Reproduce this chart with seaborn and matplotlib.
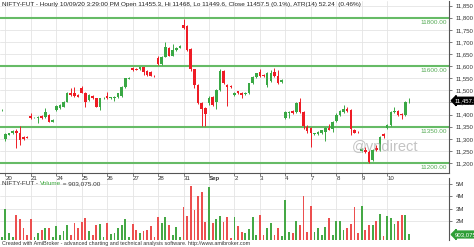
import numpy as np
import pandas as pd
import matplotlib
matplotlib.use("Agg")
import matplotlib.pyplot as plt
import seaborn as sns

# ---------------- data ----------------
session_days = ["19", "20", "21", "24", "25", "26", "27", "28", "31", "Sep",
                "2", "3", "4", "7", "8", "9", "10"]
bars_per_day = [1, 7, 7, 7, 7, 7, 7, 7, 7, 7, 7, 7, 7, 7, 7, 7, 7]

opens = [11418,
         11298, 11317, 11323, 11334, 11325, 11309, 11305,
         11394, 11388, 11385, 11394, 11389, 11398, 11371,
         11419, 11426, 11433, 11453, 11490, 11490, 11481,
         11508, 11488, 11460, 11477, 11467, 11433, 11468,
         11478, 11470, 11468, 11471, 11477, 11513, 11547,
         11591, 11590, 11588, 11595, 11580, 11577, 11560,
         11635, 11609, 11639, 11674, 11643, 11667, 11676,
         11770, 11766, 11669, 11587, 11522, 11446, 11426,
         11449, 11471, 11453, 11501, 11581, 11522, 11520,
         11481, 11496, 11490, 11484, 11488, 11529, 11556,
         11577, 11565, 11522, 11537, 11577, 11559, 11535,
         11385, 11405, 11415, 11412, 11453, 11410, 11350,
         11345, 11318, 11320, 11323, 11330, 11345, 11340,
         11373, 11398, 11410, 11425, 11420, 11336, 11326,
         11250, 11255, 11247, 11212, 11262, 11255, 11318,
         11343, 11357, 11410, 11415, 11402, 11398, 11455.3]
highs = [11423,
         11322, 11326, 11338, 11340, 11352, 11312, 11310,
         11407, 11392, 11393, 11398, 11426, 11402, 11380,
         11440, 11443, 11456, 11493, 11511, 11515, 11484,
         11520, 11492, 11485, 11480, 11470, 11470, 11472,
         11495, 11474, 11476, 11490, 11516, 11552, 11555,
         11598, 11594, 11598, 11598, 11583, 11580, 11562,
         11640, 11642, 11698, 11678, 11690, 11679, 11686,
         11793, 11770, 11673, 11590, 11526, 11450, 11430,
         11475, 11475, 11504, 11590, 11585, 11526, 11523,
         11493, 11499, 11493, 11494, 11532, 11558, 11573,
         11590, 11569, 11576, 11585, 11591, 11585, 11545,
         11415, 11414, 11418, 11450, 11468, 11414, 11356,
         11350, 11326, 11331, 11338, 11348, 11362, 11373,
         11405, 11418, 11440, 11430, 11424, 11340, 11332,
         11262, 11268, 11252, 11258, 11275, 11312, 11325,
         11360, 11415, 11432, 11420, 11405, 11456, 11468]
lows = [11416,
        11290, 11314, 11320, 11261, 11275, 11294, 11302,
        11383, 11384, 11365, 11382, 11386, 11368, 11368,
        11415, 11422, 11430, 11450, 11478, 11474, 11471,
        11488, 11433, 11456, 11466, 11430, 11419, 11465,
        11464, 11466, 11455, 11468, 11474, 11510, 11545,
        11582, 11583, 11585, 11565, 11560, 11558, 11557,
        11605, 11606, 11636, 11640, 11640, 11664, 11673,
        11752, 11664, 11580, 11510, 11443, 11353, 11353,
        11440, 11436, 11425, 11498, 11525, 11435, 11508,
        11477, 11487, 11467, 11480, 11485, 11526, 11553,
        11555, 11555, 11515, 11533, 11555, 11528, 11532,
        11380, 11385, 11402, 11408, 11406, 11340, 11326,
        11267, 11314, 11317, 11320, 11290, 11336, 11330,
        11369, 11394, 11406, 11412, 11316, 11322, 11323,
        11245, 11240, 11200, 11208, 11250, 11250, 11303,
        11340, 11352, 11405, 11395, 11380, 11395, 11449.6]
closes = [11420,
          11319, 11323, 11334, 11326, 11295, 11298, 11304,
          11385, 11389, 11390, 11385, 11412, 11371, 11378,
          11437, 11440, 11453, 11490, 11481, 11477, 11474,
          11490, 11453, 11481, 11470, 11433, 11467, 11469,
          11467, 11471, 11473, 11488, 11513, 11550, 11552,
          11584, 11585, 11595, 11577, 11563, 11561, 11559,
          11609, 11639, 11678, 11643, 11667, 11676, 11683,
          11757, 11667, 11587, 11522, 11446, 11422, 11402,
          11467, 11440, 11501, 11581, 11529, 11513, 11512,
          11490, 11490, 11481, 11490, 11529, 11554, 11570,
          11559, 11558, 11573, 11572, 11559, 11532, 11542,
          11412, 11412, 11405, 11446, 11410, 11352, 11332,
          11323, 11323, 11328, 11335, 11345, 11338, 11370,
          11400, 11415, 11425, 11415, 11340, 11325, 11324,
          11258, 11245, 11205, 11254, 11255, 11309, 11310,
          11357, 11412, 11414, 11398, 11397, 11453, 11457.5]
volumes_m = [0.7,
             3.0, 1.05, 0.67, 2.5, 2.16, 1.4, 0.86,
             2.14, 0.67, 1.05, 1.27, 1.4, 1.4, 0.67,
             1.62, 0.86, 1.2, 1.67, 0.86, 1.8, 1.4,
             1.95, 2.27, 1.2, 0.86, 1.67, 1.76, 0.67,
             1.8, 0.94, 1.05, 1.4, 1.67, 2.2, 0.67,
             1.76, 1.27, 1.0, 1.2, 1.27, 1.6, 0.67,
             2.3, 1.8, 2.3, 1.67, 0.86, 1.54, 0.67,
             3.1, 2.4, 4.85, 2.9, 4.03, 4.33, 1.95,
             4.8, 1.8, 2.2, 2.4, 1.95, 2.35, 0.6,
             2.3, 1.57, 1.1, 1.0, 1.35, 2.3, 0.84,
             2.46, 0.84, 1.43, 1.84, 0.84, 1.43, 0.75,
             3.7, 1.1, 1.0, 2.0, 1.65, 4.0, 1.1,
             3.2, 1.1, 1.43, 0.84, 1.5, 2.24, 0.9,
             2.0, 2.0, 1.3, 1.43, 1.75, 3.1, 1.0,
             3.25, 1.3, 1.7, 1.7, 2.0, 2.57, 0.75,
             2.38, 2.24, 1.75, 2.0, 2.46, 2.5, 0.903075]

levels = [11800, 11600, 11350, 11200]
price_ticks = [11200, 11250, 11300, 11350, 11400, 11450, 11500, 11550,
               11600, 11650, 11700, 11750, 11800, 11850]
vol_ticks_m = [2, 3, 4, 5]
last_close = 11457.5
last_volume = 903075

title_text = ("NIFTY-FUT - Hourly 10/09/20 3:29:00 PM Open 11455.3, Hi 11468, "
              "Lo 11449.6, Close 11457.5 (0.1%), ATR(14) 52.24  (0.46%)")
footer_text = ("Created with AmiBroker - advanced charting and technical analysis "
               "software. http://www.amibroker.com")

# ---------------- frame ----------------
df = pd.DataFrame({"open": opens, "high": highs, "low": lows,
                   "close": closes, "volume": volumes_m})
df["bar"] = np.arange(len(df))
df["day"] = np.repeat(session_days, bars_per_day)
df["dir"] = np.where(df["close"] >= df["open"], "up", "down")
first_bars = df.groupby("day", sort=False)["bar"].min()
first_bars = first_bars.iloc[1:]  # the day before the window has no label

GREEN = "#3aa845"
RED = "#ee1c25"
VGREEN = "#45a845"
VRED = "#ec4f4f"
LEVEL = "#66bb66"
GRID = "#e4e4e4"
TXT = "#333333"

sns.set_theme(style="white")
plt.rcParams["font.family"] = ["Liberation Sans", "DejaVu Sans"]

W, H = 474, 247
fig = plt.figure(figsize=(W / 100, H / 100), dpi=100)
fig.patch.set_facecolor("white")

right_px = 449
axv = fig.add_axes([0, 1 - 240 / H, right_px / W, 62 / H])
ax = fig.add_axes([0, 1 - 173 / H, right_px / W, 172 / H])
ax.set_facecolor("none")
axv.set_facecolor("white")

# ---------------- price panel ----------------
xlim = (-0.47, 123.0)
for lv in levels:
    ax.axhline(lv, color=LEVEL, lw=1.5, zorder=2)
    ax.annotate(f"{lv:.2f}", xy=(0.996, lv), xycoords=("axes fraction", "data"),
                xytext=(0, -3.2), textcoords="offset points",
                ha="right", va="center", fontsize=4.6, color="#55aa55", zorder=3)

colors = np.where(df["dir"] == "up", GREEN, RED)
ax.vlines(df["bar"], df["low"], df["high"], colors=colors, lw=0.7, zorder=4)
body_h = np.maximum((df["close"] - df["open"]).abs(), 1.8)
ax.bar(df["bar"], body_h, bottom=np.minimum(df["open"], df["close"]),
       width=0.72, color=colors, lw=0, zorder=5)

ax.text(105.4, 11270, "@vndirect", fontsize=10.5, color="#b0b0b0",
        ha="center", va="center", alpha=0.75, zorder=6)

ax.set_xlim(*xlim)
ax.set_ylim(11158.8, 11869)
ax.set_yticks(price_ticks)
ax.set_yticklabels([f"{t:,}" for t in price_ticks])
ax.yaxis.tick_right()
ax.set_xticks(first_bars.values)
ax.set_xticklabels(first_bars.index)
for lab in ax.get_xticklabels():
    lab.set_ha("left")
    if lab.get_text() == "Sep":
        lab.set_fontweight("bold")
ax.tick_params(axis="x", length=2.2, width=0.6, color="#666666", pad=0.3,
               labelsize=4.4, labelcolor=TXT, direction="out", bottom=True)
ax.tick_params(axis="y", length=2.0, width=0.6, color="#666666", pad=3.0,
               labelsize=4.3, labelcolor=TXT, right=True, left=False)
ax.grid(True, color=GRID, lw=0.6, zorder=0)
for s in ["left", "top"]:
    ax.spines[s].set_visible(False)
for s in ["right", "bottom"]:
    ax.spines[s].set_color("#555555")
    ax.spines[s].set_linewidth(0.8)

ax.annotate(f"{last_close:,.1f}", xy=(1.0, last_close),
            xycoords=("axes fraction", "data"), xytext=(4.2, 0),
            textcoords="offset points", ha="left", va="center",
            fontsize=4.3, color="white", zorder=10, annotation_clip=False,
            bbox=dict(boxstyle="larrow,pad=0.15", fc="black", ec="black"))

# ---------------- volume panel ----------------
sns.barplot(data=df, x="bar", y="volume", hue="dir",
            palette={"up": VGREEN, "down": VRED}, native_scale=True,
            width=0.5, dodge=False, legend=False, errorbar=None,
            saturation=1, linewidth=0, ax=axv, zorder=3)
axv.set_xlim(*xlim)
axv.set_ylim(0.455, 5.5)
axv.set_xticks(first_bars.values)
axv.set_xticklabels([])
axv.set_yticks(vol_ticks_m)
axv.set_yticklabels([f"{t}M" for t in vol_ticks_m])
axv.yaxis.tick_right()
axv.tick_params(axis="x", length=0)
axv.tick_params(axis="y", length=2.0, width=0.6, color="#666666", pad=3.0,
                labelsize=4.3, labelcolor=TXT, right=True, left=False)
axv.grid(True, color=GRID, lw=0.6, zorder=0)
axv.set_xlabel("")
axv.set_ylabel("")
for s in ["left", "top", "bottom"]:
    axv.spines[s].set_visible(False)
axv.spines["right"].set_color("#555555")
axv.spines["right"].set_linewidth(0.8)

axv.annotate(f"{last_volume:,}", xy=(1.0, last_volume / 1e6),
             xycoords=("axes fraction", "data"), xytext=(4.2, 0),
             textcoords="offset points", ha="left", va="center",
             fontsize=4.3, color="white", zorder=10, annotation_clip=False,
             bbox=dict(boxstyle="larrow,pad=0.15", fc="#2e9e36", ec="#2e9e36"))

# volume title
t1 = axv.text(0.004, 0.955, "NIFTY-FUT - ", transform=axv.transAxes,
              fontsize=4.6, color=TXT, ha="left", va="top", zorder=8)
t2 = axv.annotate("Volume", xy=(1, 0), xycoords=t1, ha="left", va="bottom",
                  fontsize=4.6, color="#3aa83a", zorder=8)
axv.annotate(f" = {last_volume:,.2f}", xy=(1, 0), xycoords=t2, ha="left",
             va="bottom", fontsize=4.6, color=TXT, zorder=8)

# ---------------- texts ----------------
fig.text(0.004, 1 - 4.5 / H, title_text, fontsize=4.6, color="#222222",
         ha="left", va="center")
fig.text(0.004, 1 - 243.5 / H, footer_text, fontsize=3.9, color="#333333",
         ha="left", va="center")

fig.savefig("out.png", dpi=100, facecolor="white")
